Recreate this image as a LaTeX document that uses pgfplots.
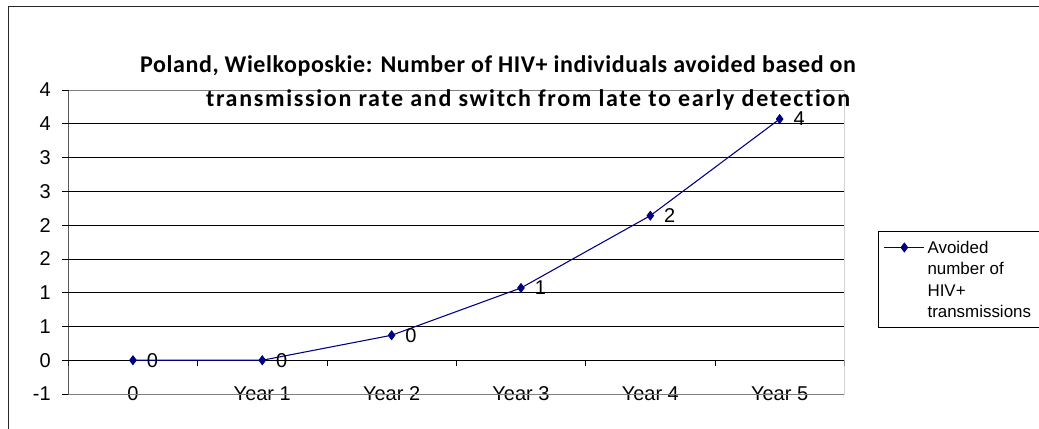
\documentclass[border=0pt]{standalone}
\usepackage{fontspec}
\setmainfont{Liberation Sans}
\newfontfamily\titlefont{Carlito}[Ligatures=NoCommon]
\usepackage{pgfplots}
\pgfplotsset{compat=1.18}
\definecolor{navy}{RGB}{0,0,128}
\definecolor{framegray}{RGB}{128,128,128}

\begin{document}
\begin{tikzpicture}
\begin{axis}[
  name=ax,
  scale only axis,
  width=582pt, height=228pt,
  xmin=-0.5, xmax=5.5,
  ymin=-0.5, ymax=4,
  axis line style={draw=none},
  xtick={0,1,2,3,4,5},
  xticklabels={0,Year 1,Year 2,Year 3,Year 4,Year 5},
  xtick style={draw=none},
  xticklabel style={anchor=base, yshift=0pt},
  ytick={-0.5,0,0.5,1,1.5,2,2.5,3,3.5,4},
  yticklabels={-1,0,1,1,2,2,3,3,4,4},
  ytick pos=left,
  tick align=outside,
  major tick length=4.5pt,
  ytick style={black, line width=0.6pt},
  yticklabel style={anchor=east, inner sep=0pt, xshift=-8.5pt},
  ymajorgrids,
  grid style={black, line width=0.6pt},
  tick label style={font=\fontsize{15}{18}\selectfont},
  legend style={at={(1.0435,0.536)}, anchor=north west, draw=black, line width=0.6pt,
    font=\fontsize{12.7}{14.25}\selectfont, inner xsep=4pt, inner ysep=4pt, row sep=0pt,
    cells={inner ysep=0pt, text height=10.5pt, text depth=3.75pt}},
  legend cell align=left,
  legend image code/.code={\draw[mark repeat=2,mark phase=2,#1] plot coordinates {(0pt,0pt) (15pt,0pt) (30pt,0pt)};},
]
% x axis line at zero with its ticks
\draw[black, line width=0.6pt] (axis cs:-0.5,0) -- (axis cs:5.5,0);
\pgfplotsinvokeforeach{-0.5,0.5,1.5,2.5,3.5,4.5,5.5}{
  \draw[black, line width=0.6pt] (axis cs:#1,0) -- ++(0pt,-4.5pt);
}
\addplot[navy, line width=0.8pt, mark=diamond*, mark size=3.2pt,
  nodes near coords, point meta=explicit symbolic,
  nodes near coords style={anchor=west, inner sep=0pt, xshift=10pt, text=black, font=\fontsize{15}{18}\selectfont}]
  table[meta=lab] {
x y lab
0 0 0
1 0 0
2 0.37 0
3 1.07 1
4 2.14 2
5 3.57 4
};
\addlegendentry{Avoided}
\addlegendimage{empty legend}\addlegendentry{number of}
\addlegendimage{empty legend}\addlegendentry{HIV+}
\addlegendimage{empty legend}\addlegendentry{transmissions}
\draw[framegray, line width=0.6pt] (rel axis cs:0,0) -- (rel axis cs:1,0) -- (rel axis cs:1,1) -- (rel axis cs:0,1);
\draw[black, line width=0.6pt] (rel axis cs:0,0) -- (rel axis cs:0,1);
\end{axis}
% title
\node[anchor=base, font=\titlefont\bfseries\fontsize{18}{20}\selectfont\addfontfeature{LetterSpace=2.4}] at (322.3pt,240.75pt)
  {Poland, Wielkoposkie: Number of HIV+ individuals avoided based on};
\node[anchor=base, font=\titlefont\bfseries\fontsize{18}{20}\selectfont\addfontfeature{LetterSpace=7}] at (344.8pt,216pt)
  {transmission rate and switch from late to early detection};
% chart border
\draw[black!85, line width=1.1pt] (-44.8pt,-40pt) -- (-44.8pt,290.6pt) -- (740pt,290.6pt);
\pgfresetboundingbox
\useasboundingbox (-51.2pt,-25.5pt) rectangle (728pt,295.5pt);
\end{tikzpicture}
\end{document}
